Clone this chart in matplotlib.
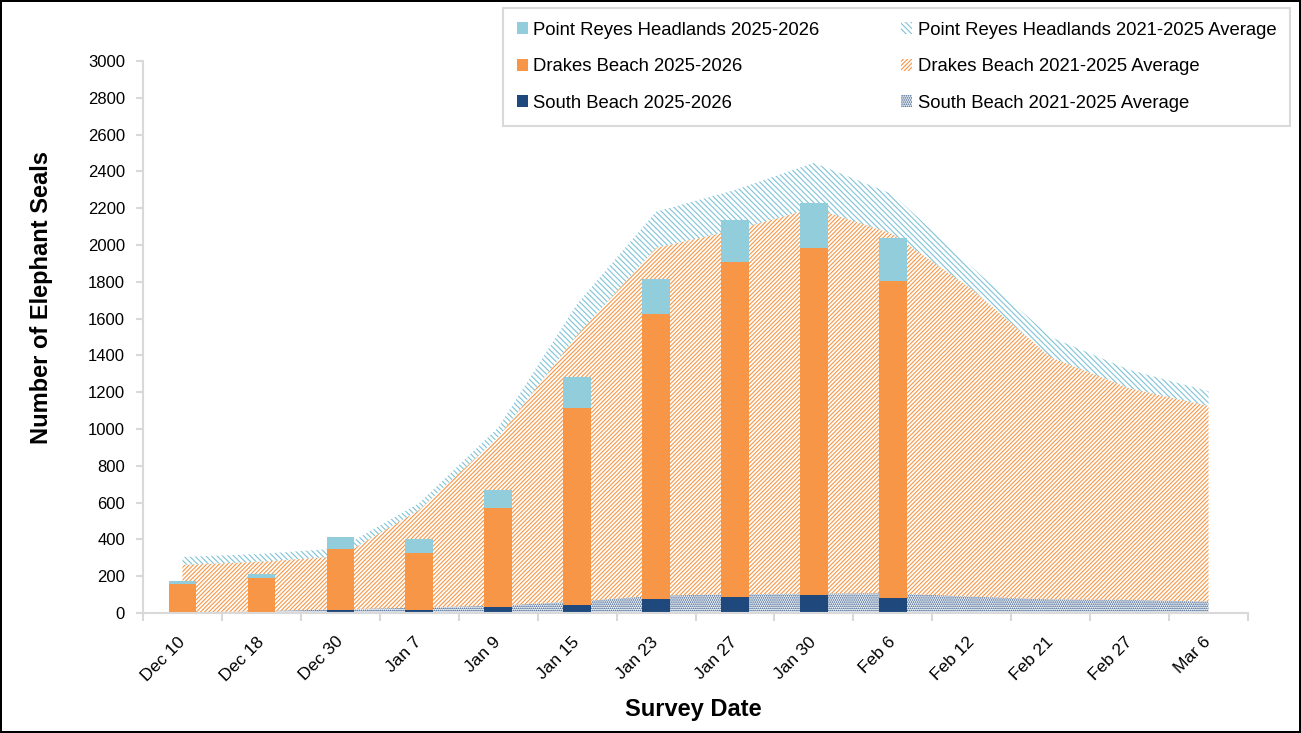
import numpy as np
import matplotlib
matplotlib.use("Agg")
import matplotlib.pyplot as plt

plt.rcParams['font.family'] = ['Liberation Sans', 'DejaVu Sans']
plt.rcParams['hatch.linewidth'] = 0.8

# survey dates
dates = ["Dec 10", "Dec 18", "Dec 30", "Jan 7", "Jan 9", "Jan 15", "Jan 23",
         "Jan 27", "Jan 30", "Feb 6", "Feb 12", "Feb 21", "Feb 27", "Mar 6"]

# 2025-2026 counts (surveys so far)
south_2526 = [0, 0, 16, 16, 33, 43, 76, 87, 98, 83]
drakes_2526 = [159, 192, 332, 310, 539, 1073, 1551, 1821, 1886, 1721]
headlands_2526 = [15, 20, 65, 76, 96, 167, 188, 228, 244, 234]

# 2021-2025 averages
south_avg = [2, 10, 20, 29, 40, 62, 94, 102, 105, 107, 89, 74, 71, 62]
drakes_avg = [259, 269, 288, 531, 915, 1448, 1890, 1980, 2095, 1953, 1671, 1316, 1150, 1063]
headlands_avg = [43, 42, 44, 38, 53, 170, 197, 217, 247, 215, 120, 110, 100, 80]

c_navy = '#1F497D'
c_orange = '#F79646'
c_aqua = '#92CDDC'
c_axis = '#D9D9D9'

fig = plt.figure(figsize=(13.01, 7.33), dpi=100)
fig.patch.set_edgecolor('black')
fig.patch.set_linewidth(1.5)
ax = fig.add_axes([143/1301, 1-613/733, (1248-143)/1301, (613-61)/733])

x = np.arange(len(dates))

# stacked averages as hatched areas
sb = np.array(south_avg, dtype=float)
db = sb + np.array(drakes_avg)
hl = db + np.array(headlands_avg)
ax.fill_between(x, 0, sb, facecolor='none', edgecolor=c_navy, hatch='........',
                linewidth=0, label='South Beach 2021-2025 Average', zorder=1)
ax.fill_between(x, sb, db, facecolor='none', edgecolor=c_orange, hatch='////////',
                linewidth=0, label='Drakes Beach 2021-2025 Average', zorder=1)
ax.fill_between(x, db, hl, facecolor='none', edgecolor='#7FC3D6', hatch='\\\\\\\\\\\\',
                linewidth=0, label='Point Reyes Headlands 2021-2025 Average', zorder=1)

# stacked bars for this season
n = len(south_2526)
xb = x[:n]
w = 0.35
ax.bar(xb, south_2526, w, color=c_navy, label='South Beach 2025-2026', zorder=2)
ax.bar(xb, drakes_2526, w, bottom=south_2526, color=c_orange,
       label='Drakes Beach 2025-2026', zorder=2)
bot = np.array(south_2526) + np.array(drakes_2526)
ax.bar(xb, headlands_2526, w, bottom=bot, color=c_aqua,
       label='Point Reyes Headlands 2025-2026', zorder=2)

ax.set_xlim(-0.5, len(dates) - 0.5)
ax.set_ylim(0, 3000)
ax.set_yticks(np.arange(0, 3001, 200))
ax.set_xticks(x)
ax.set_xticklabels(dates, rotation=45, ha='right', va='center', rotation_mode='anchor')
ax.set_xticks(np.arange(-0.5, len(dates), 1), minor=True)
ax.tick_params(axis='x', which='major', length=0, pad=19, labelsize=12.5)
ax.tick_params(axis='x', which='minor', length=6, width=1.5, color=c_axis)
ax.tick_params(axis='y', length=5, width=1.5, color=c_axis, labelsize=12, pad=8)

for s in ['top', 'right']:
    ax.spines[s].set_visible(False)
for s in ['left', 'bottom']:
    ax.spines[s].set_color(c_axis)
    ax.spines[s].set_linewidth(1.5)

ax.set_ylabel('Number of Elephant Seals', fontsize=17, fontweight='bold')
ax.yaxis.set_label_coords(-0.0815, 0.571)
ax.set_xlabel('Survey Date', fontsize=17, fontweight='bold')
ax.xaxis.set_label_coords(0.498, -0.154)

handles, labels = ax.get_legend_handles_labels()
order = ['Point Reyes Headlands 2025-2026', 'Drakes Beach 2025-2026', 'South Beach 2025-2026',
         'Point Reyes Headlands 2021-2025 Average', 'Drakes Beach 2021-2025 Average',
         'South Beach 2021-2025 Average']
hmap = dict(zip(labels, handles))
leg = fig.legend([hmap[k] for k in order], order, ncol=2, loc='upper right',
                 bbox_to_anchor=(1290/1301, 1-8/733), borderaxespad=0, fontsize=13.3,
                 handlelength=0.6, handleheight=0.6, handletextpad=0.3,
                 labelspacing=1.05, columnspacing=4.4, borderpad=0.75,
                 fancybox=False, framealpha=1, edgecolor=c_axis)
leg.get_frame().set_linewidth(1.5)

fig.savefig('out.png', dpi=100)
